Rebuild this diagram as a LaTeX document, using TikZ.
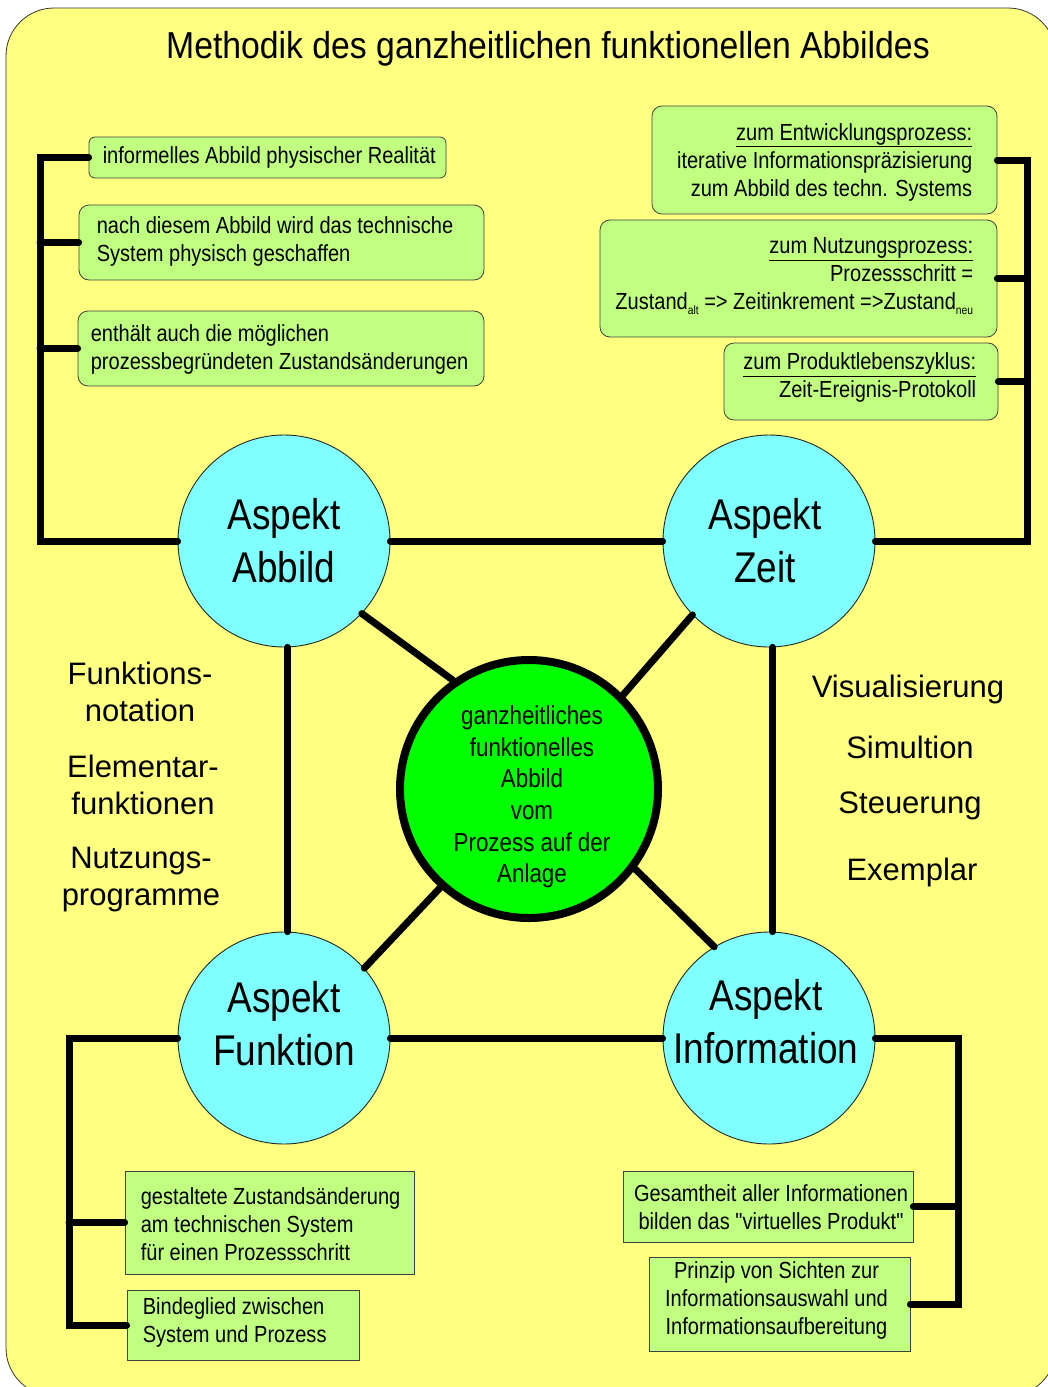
\documentclass[tikz,border=0pt]{standalone}
\usepackage{fontspec}
\setmainfont{Liberation Sans}
\newfontfamily\nf{Liberation Sans}[FakeStretch=0.86]
\newfontfamily\tf{Liberation Sans}[FakeStretch=0.9]
\definecolor{paper}{RGB}{255,255,128}
\definecolor{boxgreen}{RGB}{192,255,128}
\definecolor{aspcyan}{RGB}{128,255,255}
\definecolor{coregreen}{RGB}{0,255,0}
\begin{document}
\begin{tikzpicture}[x=1pt,y=-1pt,
  conn/.style={line width=7pt, line cap=round},
  gbox/.style={draw=black!75, line width=0.8pt, fill=boxgreen, rounded corners=10pt, inner sep=0pt},
  sbox/.style={draw=black!75, line width=0.8pt, fill=boxgreen, inner sep=0pt},
  btxt/.style={inner sep=0pt, font=\nf\fontsize{23.3}{28}\selectfont},
  aspect/.style={circle, draw=black!85, line width=0.9pt, fill=aspcyan, minimum size=212pt, inner sep=0pt},
  asptxt/.style={inner sep=0pt, align=center, font=\nf\fontsize{43}{53}\selectfont},
  side/.style={inner sep=0pt, align=center, font=\fontsize{31}{37}\selectfont}]

\useasboundingbox (0,0) rectangle (1048,1387);
\begin{scope}
  \clip (0,0) rectangle (1048,1387);
  \fill[white] (0,0) rectangle (1048,1387);
  \draw[fill=paper, draw=black!80, line width=0.8pt, rounded corners=48pt] (6,8) rectangle (1056,1396);
\end{scope}

% title
\node[inner sep=0pt, font=\tf\fontsize{37.5}{37.5}\selectfont] (title) at (548,49)
  {Methodik des ganzheitlichen funktionellen Abbildes};

% aspect circles and the core
\node[aspect, label={[asptxt]center:{Aspekt\\Abbild}}] (abbild) at (284,541) {};
\node[aspect, label={[asptxt, xshift=-4pt]center:{Aspekt\\Zeit}}] (zeit) at (769,541) {};
\node[aspect, label={[asptxt, yshift=14pt]center:{Aspekt\\Funktion}}] (funktion) at (284,1038) {};
\node[aspect, label={[asptxt, xshift=-3pt, yshift=16pt]center:{Aspekt\\Information}}] (information) at (769,1038) {};
\node[circle, fill=coregreen, draw=black, line width=8pt, minimum size=258pt, inner sep=0pt,
  label={[inner sep=0pt, align=center, xshift=3pt, yshift=-8pt, font=\nf\fontsize{26}{31.6}\selectfont]center:{ganzheitliches\\funktionelles\\Abbild\\vom\\Prozess auf der\\Anlage}}]
  (core) at (529,789) {};

% side texts
\node[side] (fn) at (140,692) {Funktions-\\notation};
\node[side] (ef) at (143,785) {Elementar-\\funktionen};
\node[side] (np) at (141,880) {Nutzungs-\\programme};
\node[side] (vis) at (908,689) {Visualisierung};
\node[side] (sim) at (910,747) {Simultion};
\node[side] (ste) at (910,806) {Steuerung};
\node[side] (exe) at (912,872) {Exemplar};

% boxes top left
\node[gbox, rounded corners=6pt, minimum width=357pt, minimum height=41pt] (tl1) at (267.5,157.5) {};
\node[btxt, anchor=west] (tl1t) at ([xshift=14pt]tl1.west) {informelles Abbild physischer Realität};
\node[gbox, minimum width=405pt, minimum height=75pt] (tl2) at (281.5,242.5) {};
\node[btxt, anchor=west, align=left] (tl2t) at ([xshift=18pt,yshift=1pt]tl2.west)
  {nach diesem Abbild wird das technische\\System physisch geschaffen};
\node[gbox, minimum width=406pt, minimum height=75pt] (tl3) at (281,348.5) {};
\node[btxt, anchor=west, align=left] (tl3t) at ([xshift=13pt,yshift=-1pt]tl3.west)
  {enthält auch die möglichen\\prozessbegründeten Zustandsänderungen};

% boxes top right
\node[gbox, minimum width=345pt, minimum height=108pt] (tr1) at (824.5,160) {};
\node[btxt, anchor=east, align=right] (tr1t) at ([xshift=-25pt,yshift=-2pt]tr1.east)
  {\underline{zum Entwicklungsprozess:}\\iterative Informationspräzisierung\\zum Abbild des techn. Systems};
\node[gbox, minimum width=397pt, minimum height=117pt] (tr2) at (798.5,278.5) {};
\node[btxt, anchor=east, align=right] (tr2t) at ([xshift=-24pt,yshift=2pt]tr2.east)
  {\underline{zum Nutzungsprozess:}\\Prozessschritt =\\Zustand\raisebox{-5pt}{\fontsize{12}{12}\selectfont alt} => Zeitinkrement =>Zustand\raisebox{-5pt}{\fontsize{12}{12}\selectfont neu}};
\node[gbox, minimum width=274pt, minimum height=77pt] (tr3) at (861,381.5) {};
\node[btxt, anchor=east, align=right] (tr3t) at ([xshift=-22pt,yshift=4pt]tr3.east)
  {\underline{zum Produktlebenszyklus:}\\Zeit-Ereignis-Protokoll};

% boxes bottom left
\node[sbox, minimum width=289pt, minimum height=103pt] (bl1) at (269.5,1222.5) {};
\node[btxt, anchor=west, align=left] (bl1t) at ([xshift=16pt,yshift=-2pt]bl1.west)
  {gestaltete Zustandsänderung\\am technischen System\\für einen Prozessschritt};
\node[sbox, minimum width=232pt, minimum height=70pt] (bl2) at (243,1325) {};
\node[btxt, anchor=west, align=left] (bl2t) at ([xshift=16pt,yshift=3pt]bl2.west)
  {Bindeglied zwischen\\System und Prozess};

% boxes bottom right
\node[sbox, minimum width=290pt, minimum height=71pt] (br1) at (768,1206.5) {};
\node[btxt, align=center] (br1t) at ([xshift=3pt,yshift=-1pt]br1.center)
  {Gesamtheit aller Informationen\\bilden das "virtuelles Produkt"};
\node[sbox, minimum width=261pt, minimum height=94pt] (br2) at (779.5,1304) {};
\node[btxt, align=center] (br2t) at ([xshift=-3pt,yshift=4pt]br2.center)
  {Prinzip von Sichten zur\\Informationsauswahl und\\Informationsaufbereitung};

% connectors between the aspects
\draw[conn] (abbild.east) -- (zeit.west);
\draw[conn] (funktion.east) -- (information.west);
\draw[conn] (abbild.-88) -- (funktion.88);
\draw[conn] (zeit.-88) -- (information.88);
\draw[conn] (abbild.-43) -- (core.125);
\draw[conn] (zeit.-136) -- (core.45);
\draw[conn] (funktion.41) -- (core.-132);
\draw[conn] (information.121) -- (core.-37);

% brackets to the annotation boxes
\coordinate (lx) at (40,0);
\coordinate (rx) at (1027,0);
\coordinate (blx) at (69,0);
\coordinate (brx) at (958,0);
\draw[conn] (abbild.west) -| (lx |- tl1.west) -- (tl1.west);
\draw[conn] (tl2.west) -- (tl2.west -| lx);
\draw[conn] (tl3.west) -- (tl3.west -| lx);
\draw[conn] (zeit.east) -| (rx |- tr1.east) -- (tr1.east);
\draw[conn] (tr2.east) -- (tr2.east -| rx);
\draw[conn] (tr3.east) -- (tr3.east -| rx);
\draw[conn] (funktion.west) -| (blx |- bl2.west) -- (bl2.west);
\draw[conn] (bl1.west) -- (bl1.west -| blx);
\draw[conn] (information.east) -| (brx |- br2.east) -- (br2.east);
\draw[conn] (br1.east) -- (br1.east -| brx);
\end{tikzpicture}
\end{document}
